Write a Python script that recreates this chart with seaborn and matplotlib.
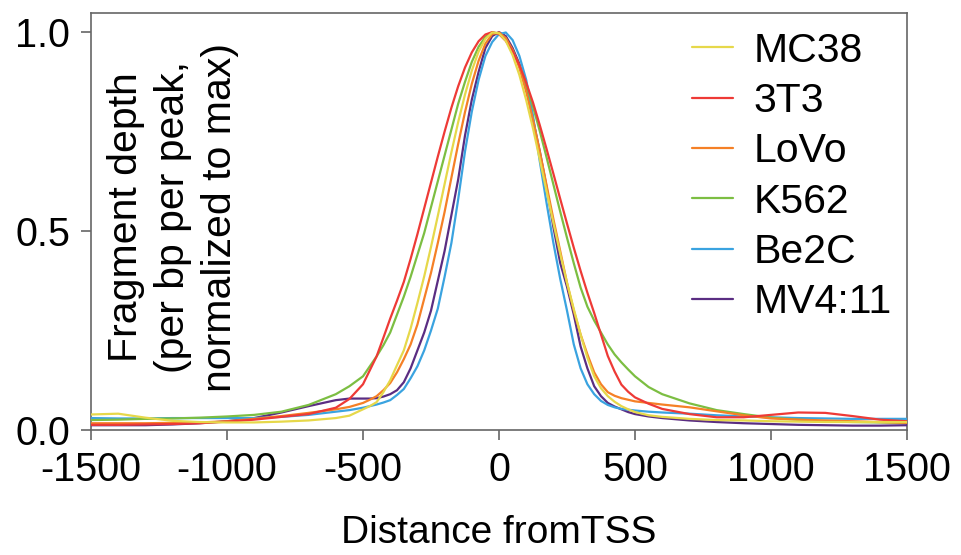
import matplotlib
matplotlib.use("Agg")
import matplotlib.pyplot as plt
import seaborn as sns
import pandas as pd

sns.set_style("white")
plt.rcParams["font.family"] = ["Liberation Sans", "DejaVu Sans"]
plt.rcParams["axes.unicode_minus"] = False
plt.rcParams["text.color"] = "black"
plt.rcParams["axes.labelcolor"] = "black"

# ---- data ----
x_pos = [-1500, -1400, -1300, -1200, -1100, -1000, -900, -800, -700, -600,
         -550, -500, -475, -450, -425, -400, -375, -350, -325, -300, -275,
         -250, -225, -200, -175, -150, -125, -100, -75, -50, -25, 0, 25, 50,
         75, 100, 125, 150, 175, 200, 225, 250, 275, 300, 325, 350, 375, 400,
         425, 450, 475, 500, 550, 600, 700, 800, 900, 1000, 1100, 1200, 1300,
         1400, 1500]

mc38 = [0.039, 0.041, 0.031, 0.023, 0.020, 0.019, 0.019, 0.021, 0.024, 0.030,
        0.036, 0.052, 0.060, 0.070, 0.095, 0.125, 0.163, 0.200, 0.255, 0.319,
        0.386, 0.460, 0.538, 0.618, 0.698, 0.774, 0.843, 0.903, 0.951, 0.983,
        0.999, 0.997, 0.978, 0.942, 0.892, 0.829, 0.758, 0.680, 0.600, 0.520,
        0.443, 0.370, 0.304, 0.240, 0.182, 0.135, 0.105, 0.085, 0.071, 0.060,
        0.052, 0.045, 0.037, 0.033, 0.028, 0.025, 0.024, 0.022, 0.021, 0.020,
        0.020, 0.020, 0.020]

t3t3 = [0.013, 0.013, 0.014, 0.015, 0.017, 0.021, 0.026, 0.033, 0.040, 0.056,
        0.078, 0.115, 0.150, 0.185, 0.232, 0.280, 0.325, 0.372, 0.430, 0.492,
        0.557, 0.622, 0.687, 0.750, 0.810, 0.864, 0.911, 0.949, 0.977, 0.994,
        1.000, 0.995, 0.978, 0.952, 0.917, 0.873, 0.823, 0.766, 0.706, 0.644,
        0.581, 0.519, 0.458, 0.400, 0.345, 0.294, 0.240, 0.186, 0.147, 0.114,
        0.096, 0.082, 0.066, 0.053, 0.040, 0.032, 0.032, 0.038, 0.044, 0.043,
        0.035, 0.026, 0.022]

lovo = [0.017, 0.017, 0.017, 0.018, 0.019, 0.022, 0.028, 0.035, 0.043, 0.052,
        0.058, 0.068, 0.076, 0.085, 0.100, 0.118, 0.145, 0.178, 0.215, 0.265,
        0.330, 0.395, 0.470, 0.548, 0.634, 0.719, 0.799, 0.870, 0.928, 0.971,
        0.995, 0.999, 0.985, 0.955, 0.910, 0.850, 0.780, 0.700, 0.615, 0.530,
        0.450, 0.370, 0.300, 0.240, 0.190, 0.145, 0.115, 0.095, 0.086, 0.080,
        0.076, 0.072, 0.068, 0.064, 0.057, 0.047, 0.037, 0.029, 0.026, 0.024,
        0.022, 0.020, 0.018]

k562 = [0.025, 0.026, 0.028, 0.029, 0.031, 0.034, 0.038, 0.046, 0.063, 0.090,
        0.110, 0.135, 0.160, 0.185, 0.213, 0.245, 0.290, 0.335, 0.385, 0.440,
        0.495, 0.560, 0.625, 0.690, 0.755, 0.820, 0.875, 0.925, 0.963, 0.988,
        0.999, 0.997, 0.981, 0.954, 0.916, 0.868, 0.813, 0.751, 0.685, 0.617,
        0.549, 0.483, 0.419, 0.358, 0.310, 0.275, 0.245, 0.215, 0.190, 0.170,
        0.152, 0.135, 0.108, 0.090, 0.067, 0.050, 0.040, 0.031, 0.026, 0.022,
        0.020, 0.019, 0.018]

be2c = [0.030, 0.029, 0.029, 0.030, 0.030, 0.030, 0.030, 0.033, 0.038, 0.046,
        0.050, 0.056, 0.060, 0.064, 0.069, 0.075, 0.088, 0.103, 0.130, 0.160,
        0.200, 0.250, 0.305, 0.385, 0.470, 0.580, 0.700, 0.800, 0.880, 0.940,
        0.975, 0.995, 0.999, 0.980, 0.940, 0.880, 0.790, 0.675, 0.570, 0.470,
        0.380, 0.300, 0.215, 0.155, 0.115, 0.090, 0.073, 0.063, 0.057, 0.053,
        0.051, 0.049, 0.046, 0.044, 0.041, 0.037, 0.034, 0.032, 0.030, 0.029,
        0.028, 0.028, 0.028]

mv411 = [0.012, 0.012, 0.012, 0.014, 0.017, 0.022, 0.030, 0.044, 0.060, 0.075,
         0.079, 0.079, 0.079, 0.080, 0.084, 0.090, 0.100, 0.120, 0.155, 0.200,
         0.245, 0.300, 0.375, 0.450, 0.540, 0.630, 0.740, 0.830, 0.900, 0.960,
         0.990, 1.000, 0.990, 0.960, 0.920, 0.860, 0.780, 0.700, 0.610, 0.510,
         0.420, 0.360, 0.290, 0.210, 0.155, 0.110, 0.085, 0.068, 0.059, 0.052,
         0.045, 0.040, 0.034, 0.030, 0.024, 0.020, 0.017, 0.015, 0.013, 0.012,
         0.011, 0.011, 0.012]

cell_lines = ["MC38", "3T3", "LoVo", "K562", "Be2C", "MV4:11"]
series = [mc38, t3t3, lovo, k562, be2c, mv411]
colors = ["#E6D84A", "#EE3A36", "#F58026", "#7CBE42", "#3AA3E0", "#5A2D82"]

x_ticks = [-1500, -1000, -500, 0, 500, 1000, 1500]
x_ticklabels = ["-1500", "-1000", "-500", "0", "500", "1000", "1500"]
y_ticks = [0.0, 0.5, 1.0]
y_ticklabels = ["0.0", "0.5", "1.0"]

rows = []
for name, vals in zip(cell_lines, series):
    for xv, yv in zip(x_pos, vals):
        rows.append({"x": xv, "y": yv, "line": name})
df = pd.DataFrame(rows)

# ---- figure ----
fig = plt.figure(figsize=(9.61, 5.55), dpi=100)
ax = fig.add_axes([91 / 961, 1 - 430 / 555, 816 / 961, 417 / 555])

sns.lineplot(data=df, x="x", y="y", hue="line", hue_order=cell_lines,
             palette=colors, linewidth=1.6, errorbar=None, ax=ax)

# draw order: MC38 on top
lines = ax.get_lines()
for i, ln in enumerate(lines[:len(cell_lines)]):
    ln.set_zorder(10 - i * 0.1 + (0.5 if i == 0 else 0))
    ln.set_solid_joinstyle("round")

handles, labels = ax.get_legend_handles_labels()
ax.get_legend().remove()
ax.legend(handles, labels, loc="upper left", bbox_to_anchor=(0.737, 0.955),
          frameon=False, fontsize=29.5, borderpad=0, borderaxespad=0,
          handlelength=1.0, handletextpad=0.5, labelspacing=0.3)

ax.set_xlim(-1500, 1500)
ax.set_ylim(0, 1.048)
ax.set_xticks(x_ticks)
ax.set_xticklabels(x_ticklabels)
ax.set_yticks(y_ticks)
ax.set_yticklabels(y_ticklabels)

for sp in ax.spines.values():
    sp.set_visible(True)
    sp.set_color("#666666")
    sp.set_linewidth(1.2)

ax.tick_params(axis="x", which="major", bottom=True, direction="out", length=7,
               width=1.2, color="#666666", labelsize=28.5, pad=8,
               labelcolor="black")
ax.tick_params(axis="y", which="major", left=True, direction="out", length=7,
               width=1.2, color="#666666", labelsize=28.5, pad=8,
               labelcolor="black")

ax.set_xlabel("Distance fromTSS", fontsize=28, labelpad=19, color="black")
ax.set_ylabel("")
ax.text(0.101, 0.51, "Fragment depth\n(per bp per peak,\nnormalized to max)",
        transform=ax.transAxes, rotation=90, ha="center", va="center",
        multialignment="center", fontsize=29.5, linespacing=1.3,
        color="black")

fig.savefig("out.png", dpi=100)
